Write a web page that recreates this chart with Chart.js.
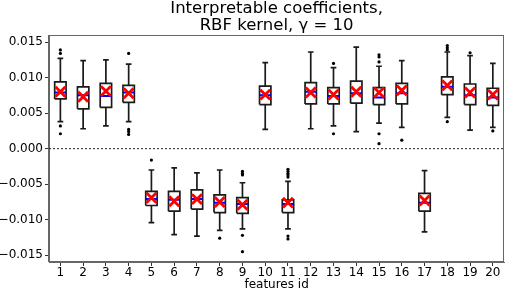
<!DOCTYPE html>
<html>
<head>
<meta charset="utf-8">
<script src="https://cdn.jsdelivr.net/npm/chart.js@4.4.1/dist/chart.umd.min.js"></script>
<style>
html,body{margin:0;padding:0;background:#fff;}
#wrap{width:514px;height:291px;}
</style>
</head>
<body>
<div id="wrap"><canvas id="c" width="514" height="291"></canvas></div>
<script>
const features = ['1','2','3','4','5','6','7','8','9','10','11','12','13','14','15','16','17','18','19','20'];
const whiskerLow  = [0.0038, 0.0028, 0.0032, 0.0038, -0.0104, -0.0121, -0.0123, -0.0115, -0.0113, 0.0027, -0.0113, 0.0028, 0.0032, 0.0024, 0.0036, 0.0030, -0.0117, 0.0044, 0.0026, 0.0030];
const q1          = [0.0070, 0.0056, 0.0058, 0.0065, -0.0080, -0.0088, -0.0085, -0.0090, -0.0091, 0.0062, -0.0090, 0.0063, 0.0063, 0.0064, 0.0062, 0.0063, -0.0088, 0.0076, 0.0062, 0.0061];
const medians     = [0.0079, 0.0075, 0.0074, 0.0079, -0.0071, -0.0072, -0.0071, -0.0076, -0.0078, 0.0075, -0.0078, 0.0080, 0.0074, 0.0078, 0.0072, 0.0078, -0.0076, 0.0087, 0.0075, 0.0072];
const q3          = [0.0094, 0.0087, 0.0092, 0.0089, -0.0060, -0.0060, -0.0058, -0.0065, -0.0069, 0.0088, -0.0072, 0.0093, 0.0086, 0.0095, 0.0086, 0.0092, -0.0063, 0.0101, 0.0091, 0.0085];
const whiskerHigh = [0.0127, 0.0124, 0.0125, 0.0119, -0.0030, -0.0027, -0.0034, -0.0030, -0.0048, 0.0121, -0.0046, 0.0136, 0.0114, 0.0143, 0.0116, 0.0124, -0.0031, 0.0136, 0.0131, 0.0120];
const means       = [0.0080, 0.0073, 0.0081, 0.0078, -0.0069, -0.0074, -0.0071, -0.0075, -0.0079, 0.0076, -0.0076, 0.0079, 0.0076, 0.0080, 0.0079, 0.0082, -0.0073, 0.0089, 0.0079, 0.0076];
const outliers = [
  [0.0139, 0.0134, 0.0032, 0.0021],
  [],
  [],
  [0.0134, 0.0027, 0.0024, 0.0020],
  [-0.0016],
  [],
  [],
  [-0.0126],
  [-0.0032, -0.0035, -0.0037, -0.0122, -0.0145],
  [],
  [-0.0029, -0.0032, -0.0035, -0.0037, -0.0040, -0.0123, -0.0127],
  [],
  [0.0120, 0.0021],
  [],
  [0.0132, 0.0129, 0.0122, 0.0021, 0.0007],
  [0.0012],
  [],
  [0.0145, 0.0142, 0.0139, 0.0038],
  [0.0135],
  [0.0025]
];
const yTicks = [-0.015, -0.010, -0.005, 0.000, 0.005, 0.010, 0.015];

const HALF = 0.25;   // half box width in x units
const CAP = 0.125;   // half cap width

const boxPts = [], whiskPts = [], medPts = [], meanPts = [], outPts = [];
features.forEach((f, i) => {
  const x = i + 1;
  boxPts.push({x:x-HALF,y:q1[i]},{x:x+HALF,y:q1[i]},{x:x+HALF,y:q3[i]},{x:x-HALF,y:q3[i]},{x:x-HALF,y:q1[i]},{x:x,y:null});
  whiskPts.push({x:x,y:q3[i]},{x:x,y:whiskerHigh[i]},{x:x,y:null},
                {x:x-CAP,y:whiskerHigh[i]},{x:x+CAP,y:whiskerHigh[i]},{x:x,y:null},
                {x:x,y:q1[i]},{x:x,y:whiskerLow[i]},{x:x,y:null},
                {x:x-CAP,y:whiskerLow[i]},{x:x+CAP,y:whiskerLow[i]},{x:x,y:null});
  medPts.push({x:x-HALF,y:medians[i]},{x:x+HALF,y:medians[i]},{x:x,y:null});
  meanPts.push({x:x,y:means[i]});
  outliers[i].forEach(v => outPts.push({x:x,y:v}));
});

Chart.defaults.font.family = 'DejaVu Sans';
Chart.defaults.color = '#000';

const frame = {
  id: 'frame',
  afterDatasetsDraw(chart) {
    const a = chart.chartArea, ctx = chart.ctx;
    ctx.save();
    ctx.strokeStyle = '#666';
    ctx.lineWidth = 1;
    ctx.strokeRect(Math.round(a.left)-0.5, Math.round(a.top)+0.5, Math.round(a.right-a.left), Math.round(a.bottom-a.top)-1);
    ctx.restore();
  }
};

new Chart(document.getElementById('c'), {
  type: 'scatter',
  data: {
    datasets: [
      {label:'mean', data: meanPts, pointStyle:'crossRot', pointRadius:7, pointHoverRadius:7, borderColor:'#ff0000', backgroundColor:'#ff0000', pointBorderWidth:2.8, showLine:false},
      {label:'median', data: medPts, showLine:true, pointRadius:0, borderColor:'#0000ff', borderWidth:2, spanGaps:false},
      {label:'box', data: boxPts, showLine:true, pointRadius:0, borderColor:'#1a1a1a', borderWidth:1.7, spanGaps:false, borderJoinStyle:'miter'},
      {label:'whisker', data: whiskPts, showLine:true, pointRadius:0, borderColor:'#1a1a1a', borderWidth:1.7, spanGaps:false},
      {label:'outliers', data: outPts, pointStyle:'circle', pointRadius:1.6, borderColor:'#000', backgroundColor:'#000', borderWidth:0, showLine:false},
      {label:'zero', data: [{x:0.5,y:0},{x:20.5,y:0}], showLine:true, pointRadius:0, borderColor:'#222', borderWidth:1, borderDash:[2,2]}
    ]
  },
  options: {
    responsive: false,
    animation: false,
    events: [],
    layout: { padding: { left: 0, right: 2, top: 0, bottom: 0 } },
    plugins: {
      legend: { display: false },
      tooltip: { enabled: false },
      title: {
        display: true,
        fullSize: false,
        text: ['Interpretable coefficients,', 'RBF kernel, \u03B3 = 10'],
        font: { size: 16.5, weight: 'normal', lineHeight: 1.04 },
        color: '#000',
        padding: { top: 0, bottom: 1 }
      }
    },
    scales: {
      x: {
        type: 'linear',
        min: 0.5, max: 20.5,
        afterBuildTicks: s => { s.ticks = features.map((f, i) => ({ value: i + 1 })); },
        afterFit: s => { s.height = 29; },
        ticks: { callback: (v, i) => features[i], font: { size: 12 }, padding: 0, maxRotation: 0, autoSkip: false },
        grid: { display: true, drawOnChartArea: false, drawTicks: true, tickLength: 4, color: '#333' },
        border: { display: true, color: '#666', width: 1 },
        title: { display: true, text: 'features id', font: { size: 12, lineHeight: 1.0 }, padding: { top: 0, bottom: 0 } }
      },
      y: {
        type: 'linear',
        min: -0.01595, max: 0.01595,
        afterBuildTicks: s => { s.ticks = yTicks.map(v => ({ value: v })); },
        afterFit: s => { s.width = 49; },
        ticks: { callback: (v, i) => yTicks[i].toFixed(3).replace('-', '\u2212'), font: { size: 12 }, padding: 2 },
        grid: { display: true, drawOnChartArea: false, drawTicks: true, tickLength: 4, color: '#333' },
        border: { display: true, color: '#666', width: 1 }
      }
    }
  },
  plugins: [frame]
});
</script>
</body>
</html>
